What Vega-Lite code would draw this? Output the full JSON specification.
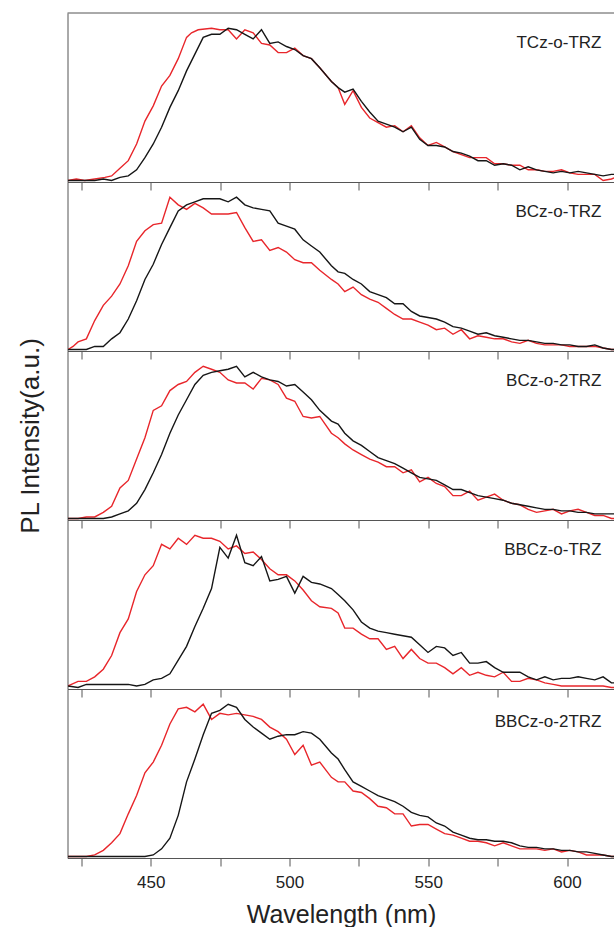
{
  "$schema": "https://vega.github.io/schema/vega-lite/v6.json",
  "background": "white",
  "padding": {"left": 16.5, "top": 12, "right": 0, "bottom": 0},
  "spacing": 0,
  "bounds": "flush",
  "config": {
    "view": {"stroke": null},
    "axis": {"grid": false, "domainColor": "#555", "tickColor": "#555", "domainWidth": 1, "tickWidth": 1, "labelFont": "Liberation Sans", "titleFont": "Liberation Sans", "labelColor": "#222", "titleColor": "#222", "titleFontWeight": "normal"},
    "text": {"font": "Liberation Sans", "fontSize": 17, "color": "#222"}
  },
  "datasets": {
    "tcz_o_trz_red": [{"x":420.2,"y":0},{"x":423.2,"y":0.01},{"x":426.2,"y":0},{"x":429.8,"y":0.01},{"x":433.5,"y":0.02},{"x":435.9,"y":0.03},{"x":438.9,"y":0.08},{"x":441.9,"y":0.13},{"x":444.9,"y":0.24},{"x":447.9,"y":0.39},{"x":450.9,"y":0.49},{"x":453.9,"y":0.62},{"x":456.9,"y":0.69},{"x":459.9,"y":0.8},{"x":462.9,"y":0.94},{"x":464.7,"y":0.97},{"x":467.1,"y":0.99},{"x":471.9,"y":1},{"x":474.9,"y":0.99},{"x":477.9,"y":0.99},{"x":480.9,"y":0.93},{"x":483.9,"y":0.99},{"x":486.9,"y":0.97},{"x":489.9,"y":0.9},{"x":492.9,"y":0.89},{"x":495.9,"y":0.84},{"x":498.9,"y":0.84},{"x":501.9,"y":0.87},{"x":504.9,"y":0.82},{"x":507.9,"y":0.8},{"x":510.9,"y":0.74},{"x":515.1,"y":0.65},{"x":517.5,"y":0.61},{"x":519.9,"y":0.5},{"x":522.9,"y":0.59},{"x":525.9,"y":0.48},{"x":528.9,"y":0.41},{"x":531.9,"y":0.38},{"x":534.9,"y":0.35},{"x":537.9,"y":0.36},{"x":540.9,"y":0.32},{"x":543.9,"y":0.36},{"x":546.9,"y":0.28},{"x":549.9,"y":0.23},{"x":552.9,"y":0.25},{"x":555.9,"y":0.22},{"x":558.9,"y":0.19},{"x":561.9,"y":0.17},{"x":564.9,"y":0.15},{"x":567.9,"y":0.15},{"x":570.9,"y":0.15},{"x":573.9,"y":0.11},{"x":577,"y":0.11},{"x":580,"y":0.1},{"x":583,"y":0.1},{"x":586,"y":0.07},{"x":589,"y":0.07},{"x":592,"y":0.06},{"x":595,"y":0.06},{"x":598,"y":0.07},{"x":601,"y":0.05},{"x":604,"y":0.04},{"x":607,"y":0.04},{"x":610,"y":0.04},{"x":613,"y":0},{"x":616,"y":0.01},{"x":617.4,"y":0.02}],
    "tcz_o_trz_black": [{"x":420.2,"y":0},{"x":425,"y":0},{"x":429.8,"y":0},{"x":432.9,"y":0.01},{"x":435.9,"y":0},{"x":438.9,"y":0.02},{"x":441.9,"y":0.03},{"x":444.9,"y":0.07},{"x":447.9,"y":0.15},{"x":450.9,"y":0.24},{"x":453.9,"y":0.35},{"x":456.9,"y":0.48},{"x":459.9,"y":0.59},{"x":462.9,"y":0.72},{"x":465.9,"y":0.83},{"x":468.9,"y":0.94},{"x":471.9,"y":0.96},{"x":474.9,"y":0.96},{"x":477.9,"y":1},{"x":480.9,"y":0.99},{"x":483.9,"y":0.96},{"x":486.9,"y":0.93},{"x":489.9,"y":0.99},{"x":492.9,"y":0.9},{"x":495.9,"y":0.91},{"x":498.9,"y":0.88},{"x":501.9,"y":0.86},{"x":504.9,"y":0.82},{"x":507.9,"y":0.8},{"x":510.9,"y":0.74},{"x":515.1,"y":0.65},{"x":517.5,"y":0.61},{"x":519.9,"y":0.58},{"x":522.9,"y":0.6},{"x":525.9,"y":0.52},{"x":528.9,"y":0.45},{"x":531.9,"y":0.39},{"x":534.9,"y":0.37},{"x":537.9,"y":0.35},{"x":540.9,"y":0.32},{"x":543.9,"y":0.35},{"x":546.9,"y":0.27},{"x":549.9,"y":0.23},{"x":552.9,"y":0.23},{"x":555.9,"y":0.22},{"x":558.9,"y":0.19},{"x":561.9,"y":0.18},{"x":564.9,"y":0.16},{"x":567.9,"y":0.13},{"x":570.9,"y":0.13},{"x":573.9,"y":0.1},{"x":577,"y":0.11},{"x":580,"y":0.1},{"x":583,"y":0.07},{"x":586,"y":0.09},{"x":589,"y":0.07},{"x":592,"y":0.06},{"x":595,"y":0.05},{"x":598,"y":0.06},{"x":601,"y":0.05},{"x":604,"y":0.06},{"x":607,"y":0.05},{"x":610,"y":0.04},{"x":613,"y":0.03},{"x":616,"y":0.04},{"x":617.4,"y":0.04}],
    "bcz_o_trz_red": [{"x":420.2,"y":0},{"x":422,"y":0.02},{"x":423.8,"y":0.05},{"x":426.8,"y":0.07},{"x":429.8,"y":0.19},{"x":432.9,"y":0.29},{"x":435.9,"y":0.35},{"x":438.9,"y":0.43},{"x":441.9,"y":0.55},{"x":444.9,"y":0.71},{"x":447.9,"y":0.78},{"x":450.9,"y":0.82},{"x":453.9,"y":0.83},{"x":456.9,"y":1},{"x":459.9,"y":0.95},{"x":462.9,"y":0.92},{"x":465.9,"y":0.96},{"x":468.9,"y":0.93},{"x":471.9,"y":0.89},{"x":474.9,"y":0.89},{"x":477.9,"y":0.89},{"x":480.9,"y":0.9},{"x":483.9,"y":0.8},{"x":486.9,"y":0.71},{"x":489.9,"y":0.72},{"x":492.9,"y":0.65},{"x":495.9,"y":0.67},{"x":498.9,"y":0.64},{"x":501.9,"y":0.59},{"x":504.9,"y":0.57},{"x":507.9,"y":0.57},{"x":510.9,"y":0.52},{"x":515.1,"y":0.46},{"x":517.5,"y":0.43},{"x":519.9,"y":0.38},{"x":522.9,"y":0.41},{"x":525.9,"y":0.36},{"x":528.9,"y":0.33},{"x":531.9,"y":0.31},{"x":534.9,"y":0.27},{"x":537.9,"y":0.23},{"x":540.9,"y":0.2},{"x":543.9,"y":0.2},{"x":546.9,"y":0.18},{"x":549.9,"y":0.16},{"x":552.9,"y":0.13},{"x":555.9,"y":0.14},{"x":558.9,"y":0.1},{"x":561.9,"y":0.13},{"x":564.9,"y":0.07},{"x":567.9,"y":0.09},{"x":570.9,"y":0.08},{"x":573.9,"y":0.07},{"x":577,"y":0.07},{"x":580,"y":0.05},{"x":583,"y":0.04},{"x":586,"y":0.06},{"x":589,"y":0.04},{"x":592,"y":0.03},{"x":595,"y":0.03},{"x":598,"y":0.03},{"x":601,"y":0.02},{"x":604,"y":0.02},{"x":607,"y":0.02},{"x":610,"y":0.02},{"x":613,"y":0.01},{"x":616,"y":0},{"x":617.4,"y":0}],
    "bcz_o_trz_black": [{"x":420.2,"y":0},{"x":423.8,"y":0},{"x":426.8,"y":0},{"x":429.8,"y":0.02},{"x":432.9,"y":0.02},{"x":435.9,"y":0.07},{"x":438.9,"y":0.11},{"x":441.9,"y":0.2},{"x":444.9,"y":0.32},{"x":447.9,"y":0.46},{"x":450.9,"y":0.56},{"x":453.9,"y":0.69},{"x":456.9,"y":0.8},{"x":459.9,"y":0.91},{"x":462.9,"y":0.95},{"x":465.9,"y":0.97},{"x":468.9,"y":0.99},{"x":471.9,"y":0.99},{"x":474.9,"y":0.99},{"x":477.9,"y":0.97},{"x":480.9,"y":1},{"x":483.9,"y":0.95},{"x":486.9,"y":0.93},{"x":489.9,"y":0.92},{"x":492.9,"y":0.91},{"x":495.9,"y":0.83},{"x":498.9,"y":0.81},{"x":501.9,"y":0.79},{"x":504.9,"y":0.72},{"x":507.9,"y":0.68},{"x":510.9,"y":0.64},{"x":515.1,"y":0.55},{"x":517.5,"y":0.51},{"x":519.9,"y":0.5},{"x":522.9,"y":0.46},{"x":525.9,"y":0.43},{"x":528.9,"y":0.38},{"x":531.9,"y":0.36},{"x":534.9,"y":0.34},{"x":537.9,"y":0.3},{"x":540.9,"y":0.3},{"x":543.9,"y":0.25},{"x":546.9,"y":0.22},{"x":549.9,"y":0.21},{"x":552.9,"y":0.2},{"x":555.9,"y":0.18},{"x":558.9,"y":0.15},{"x":561.9,"y":0.14},{"x":564.9,"y":0.12},{"x":567.9,"y":0.1},{"x":570.9,"y":0.11},{"x":573.9,"y":0.09},{"x":577,"y":0.08},{"x":580,"y":0.07},{"x":583,"y":0.06},{"x":586,"y":0.06},{"x":589,"y":0.05},{"x":592,"y":0.04},{"x":595,"y":0.04},{"x":598,"y":0.03},{"x":601,"y":0.03},{"x":604,"y":0.02},{"x":607,"y":0.02},{"x":610,"y":0.03},{"x":613,"y":0.01},{"x":616,"y":0},{"x":617.4,"y":0}],
    "bcz_o_2trz_red": [{"x":420.2,"y":0},{"x":423.8,"y":0},{"x":426.8,"y":0.01},{"x":429.8,"y":0.01},{"x":432.9,"y":0.04},{"x":435.9,"y":0.08},{"x":438.9,"y":0.2},{"x":441.9,"y":0.25},{"x":444.9,"y":0.39},{"x":447.9,"y":0.53},{"x":450.9,"y":0.71},{"x":453.9,"y":0.74},{"x":456.9,"y":0.84},{"x":459.9,"y":0.88},{"x":462.9,"y":0.9},{"x":465.9,"y":0.96},{"x":468.9,"y":1},{"x":471.9,"y":0.98},{"x":474.9,"y":0.96},{"x":477.9,"y":0.91},{"x":480.9,"y":0.89},{"x":483.9,"y":0.89},{"x":486.9,"y":0.85},{"x":489.9,"y":0.92},{"x":492.9,"y":0.91},{"x":495.9,"y":0.88},{"x":498.9,"y":0.79},{"x":501.9,"y":0.77},{"x":504.9,"y":0.67},{"x":507.9,"y":0.66},{"x":510.9,"y":0.67},{"x":515.1,"y":0.56},{"x":517.5,"y":0.53},{"x":519.9,"y":0.49},{"x":522.9,"y":0.45},{"x":525.9,"y":0.42},{"x":528.9,"y":0.39},{"x":531.9,"y":0.37},{"x":534.9,"y":0.34},{"x":537.9,"y":0.34},{"x":540.9,"y":0.3},{"x":543.9,"y":0.32},{"x":546.9,"y":0.24},{"x":549.9,"y":0.27},{"x":552.9,"y":0.23},{"x":555.9,"y":0.21},{"x":558.9,"y":0.15},{"x":561.9,"y":0.15},{"x":564.9,"y":0.18},{"x":567.9,"y":0.12},{"x":570.9,"y":0.14},{"x":573.9,"y":0.16},{"x":577,"y":0.12},{"x":580,"y":0.1},{"x":583,"y":0.09},{"x":586,"y":0.06},{"x":589,"y":0.04},{"x":592,"y":0.05},{"x":595,"y":0.06},{"x":598,"y":0.03},{"x":601,"y":0.05},{"x":604,"y":0.06},{"x":607,"y":0.04},{"x":610,"y":0.02},{"x":613,"y":0.02},{"x":616,"y":0},{"x":617.4,"y":0}],
    "bcz_o_2trz_black": [{"x":420.2,"y":0},{"x":423.8,"y":0},{"x":429.8,"y":0},{"x":432.9,"y":0},{"x":435.9,"y":0.01},{"x":438.9,"y":0.03},{"x":441.9,"y":0.05},{"x":444.9,"y":0.1},{"x":447.9,"y":0.19},{"x":450.9,"y":0.3},{"x":453.9,"y":0.42},{"x":456.9,"y":0.56},{"x":459.9,"y":0.68},{"x":462.9,"y":0.78},{"x":465.9,"y":0.88},{"x":468.9,"y":0.94},{"x":471.9,"y":0.96},{"x":474.9,"y":0.97},{"x":477.9,"y":0.98},{"x":480.9,"y":1},{"x":483.9,"y":0.93},{"x":486.9,"y":0.96},{"x":489.9,"y":0.93},{"x":492.9,"y":0.91},{"x":495.9,"y":0.9},{"x":498.9,"y":0.87},{"x":501.9,"y":0.88},{"x":504.9,"y":0.83},{"x":507.9,"y":0.78},{"x":510.9,"y":0.71},{"x":515.1,"y":0.64},{"x":517.5,"y":0.62},{"x":519.9,"y":0.56},{"x":522.9,"y":0.51},{"x":525.9,"y":0.48},{"x":528.9,"y":0.44},{"x":531.9,"y":0.4},{"x":534.9,"y":0.38},{"x":537.9,"y":0.36},{"x":540.9,"y":0.33},{"x":543.9,"y":0.3},{"x":546.9,"y":0.27},{"x":549.9,"y":0.26},{"x":552.9,"y":0.25},{"x":555.9,"y":0.22},{"x":558.9,"y":0.19},{"x":561.9,"y":0.19},{"x":564.9,"y":0.17},{"x":567.9,"y":0.15},{"x":570.9,"y":0.14},{"x":573.9,"y":0.13},{"x":577,"y":0.12},{"x":580,"y":0.1},{"x":583,"y":0.09},{"x":586,"y":0.08},{"x":589,"y":0.07},{"x":592,"y":0.06},{"x":595,"y":0.06},{"x":598,"y":0.05},{"x":601,"y":0.05},{"x":604,"y":0.04},{"x":607,"y":0.04},{"x":610,"y":0.03},{"x":613,"y":0.03},{"x":616,"y":0.03},{"x":617.4,"y":0.03}],
    "bbcz_o_trz_red": [{"x":420.2,"y":0.01},{"x":423.8,"y":0.04},{"x":426.8,"y":0.04},{"x":429.8,"y":0.07},{"x":432.9,"y":0.12},{"x":435.9,"y":0.21},{"x":438.9,"y":0.36},{"x":441.9,"y":0.45},{"x":444.9,"y":0.63},{"x":447.9,"y":0.74},{"x":450.9,"y":0.8},{"x":453.9,"y":0.94},{"x":456.9,"y":0.91},{"x":459.9,"y":0.98},{"x":462.9,"y":0.94},{"x":465.9,"y":1},{"x":468.9,"y":0.98},{"x":471.9,"y":0.98},{"x":474.9,"y":0.96},{"x":477.9,"y":0.91},{"x":480.9,"y":0.93},{"x":483.9,"y":0.88},{"x":486.9,"y":0.89},{"x":489.9,"y":0.84},{"x":492.9,"y":0.78},{"x":495.9,"y":0.74},{"x":498.9,"y":0.74},{"x":501.9,"y":0.7},{"x":504.9,"y":0.64},{"x":507.9,"y":0.57},{"x":510.9,"y":0.53},{"x":515.1,"y":0.52},{"x":517.5,"y":0.49},{"x":519.9,"y":0.39},{"x":522.9,"y":0.39},{"x":525.9,"y":0.35},{"x":528.9,"y":0.32},{"x":531.9,"y":0.32},{"x":534.9,"y":0.25},{"x":537.9,"y":0.27},{"x":540.9,"y":0.19},{"x":543.9,"y":0.25},{"x":546.9,"y":0.19},{"x":549.9,"y":0.16},{"x":552.9,"y":0.16},{"x":555.9,"y":0.13},{"x":558.9,"y":0.09},{"x":561.9,"y":0.13},{"x":564.9,"y":0.08},{"x":567.9,"y":0.1},{"x":570.9,"y":0.08},{"x":573.9,"y":0.07},{"x":577,"y":0.1},{"x":580,"y":0.04},{"x":583,"y":0.04},{"x":586,"y":0.06},{"x":589,"y":0.05},{"x":592,"y":0.03},{"x":595,"y":0.02},{"x":598,"y":0.01},{"x":601,"y":0.01},{"x":604,"y":0.01},{"x":607,"y":0.01},{"x":610,"y":0.01},{"x":613,"y":0.01},{"x":616,"y":0},{"x":617.4,"y":0}],
    "bbcz_o_trz_black": [{"x":420.2,"y":0.01},{"x":423.8,"y":0},{"x":426.8,"y":0.02},{"x":429.8,"y":0.02},{"x":432.9,"y":0.02},{"x":435.9,"y":0.02},{"x":438.9,"y":0.02},{"x":441.9,"y":0.02},{"x":444.9,"y":0.01},{"x":447.9,"y":0.02},{"x":450.9,"y":0.05},{"x":453.9,"y":0.06},{"x":456.9,"y":0.09},{"x":459.9,"y":0.18},{"x":462.9,"y":0.27},{"x":465.9,"y":0.4},{"x":468.9,"y":0.52},{"x":471.9,"y":0.65},{"x":474.9,"y":0.92},{"x":477.9,"y":0.85},{"x":480.9,"y":1},{"x":483.9,"y":0.82},{"x":486.9,"y":0.8},{"x":489.9,"y":0.86},{"x":492.9,"y":0.7},{"x":495.9,"y":0.71},{"x":498.9,"y":0.73},{"x":501.9,"y":0.62},{"x":504.9,"y":0.73},{"x":507.9,"y":0.69},{"x":510.9,"y":0.68},{"x":515.1,"y":0.65},{"x":517.5,"y":0.61},{"x":519.9,"y":0.57},{"x":522.9,"y":0.51},{"x":525.9,"y":0.43},{"x":528.9,"y":0.39},{"x":531.9,"y":0.37},{"x":534.9,"y":0.36},{"x":537.9,"y":0.35},{"x":540.9,"y":0.34},{"x":543.9,"y":0.33},{"x":546.9,"y":0.28},{"x":549.9,"y":0.23},{"x":552.9,"y":0.27},{"x":555.9,"y":0.26},{"x":558.9,"y":0.21},{"x":561.9,"y":0.23},{"x":564.9,"y":0.16},{"x":567.9,"y":0.16},{"x":570.9,"y":0.17},{"x":573.9,"y":0.13},{"x":577,"y":0.1},{"x":580,"y":0.1},{"x":583,"y":0.1},{"x":586,"y":0.07},{"x":589,"y":0.05},{"x":592,"y":0.07},{"x":595,"y":0.05},{"x":598,"y":0.06},{"x":601,"y":0.06},{"x":604,"y":0.07},{"x":607,"y":0.06},{"x":610,"y":0.05},{"x":613,"y":0.07},{"x":616,"y":0.03},{"x":617.4,"y":0.03}],
    "bbcz_o_2trz_red": [{"x":420.2,"y":0},{"x":423.8,"y":0},{"x":426.8,"y":0},{"x":429.8,"y":0.01},{"x":432.9,"y":0.04},{"x":435.9,"y":0.09},{"x":438.9,"y":0.15},{"x":441.9,"y":0.28},{"x":444.9,"y":0.4},{"x":447.9,"y":0.55},{"x":450.9,"y":0.62},{"x":453.9,"y":0.73},{"x":456.9,"y":0.87},{"x":459.9,"y":0.97},{"x":462.9,"y":0.98},{"x":465.9,"y":0.95},{"x":468.9,"y":1},{"x":471.9,"y":0.9},{"x":474.9,"y":0.94},{"x":477.9,"y":0.93},{"x":480.9,"y":0.94},{"x":483.9,"y":0.93},{"x":486.9,"y":0.92},{"x":489.9,"y":0.9},{"x":492.9,"y":0.85},{"x":495.9,"y":0.82},{"x":498.9,"y":0.77},{"x":501.9,"y":0.67},{"x":504.9,"y":0.73},{"x":507.9,"y":0.6},{"x":510.9,"y":0.62},{"x":515.1,"y":0.52},{"x":517.5,"y":0.49},{"x":519.9,"y":0.49},{"x":522.9,"y":0.43},{"x":525.9,"y":0.42},{"x":528.9,"y":0.38},{"x":531.9,"y":0.33},{"x":534.9,"y":0.32},{"x":537.9,"y":0.28},{"x":540.9,"y":0.28},{"x":543.9,"y":0.2},{"x":546.9,"y":0.21},{"x":549.9,"y":0.21},{"x":552.9,"y":0.18},{"x":555.9,"y":0.15},{"x":558.9,"y":0.14},{"x":561.9,"y":0.12},{"x":564.9,"y":0.1},{"x":567.9,"y":0.1},{"x":570.9,"y":0.09},{"x":573.9,"y":0.07},{"x":577,"y":0.09},{"x":580,"y":0.07},{"x":583,"y":0.05},{"x":586,"y":0.05},{"x":589,"y":0.05},{"x":592,"y":0.04},{"x":595,"y":0.05},{"x":598,"y":0.03},{"x":601,"y":0.04},{"x":604,"y":0.03},{"x":607,"y":0.01},{"x":610,"y":0.01},{"x":613,"y":0.01},{"x":616,"y":0},{"x":617.4,"y":0}],
    "bbcz_o_2trz_black": [{"x":420.2,"y":0},{"x":429.8,"y":0},{"x":435.9,"y":0},{"x":441.9,"y":0},{"x":447.9,"y":0},{"x":450.9,"y":0.01},{"x":453.9,"y":0.05},{"x":456.9,"y":0.12},{"x":459.9,"y":0.27},{"x":462.9,"y":0.49},{"x":465.9,"y":0.64},{"x":468.9,"y":0.8},{"x":471.9,"y":0.94},{"x":474.9,"y":0.96},{"x":477.9,"y":1},{"x":480.9,"y":0.98},{"x":483.9,"y":0.9},{"x":486.9,"y":0.85},{"x":489.9,"y":0.81},{"x":492.9,"y":0.77},{"x":495.9,"y":0.79},{"x":498.9,"y":0.8},{"x":501.9,"y":0.8},{"x":504.9,"y":0.82},{"x":507.9,"y":0.81},{"x":510.9,"y":0.77},{"x":515.1,"y":0.68},{"x":517.5,"y":0.64},{"x":519.9,"y":0.57},{"x":522.9,"y":0.49},{"x":525.9,"y":0.46},{"x":528.9,"y":0.43},{"x":531.9,"y":0.4},{"x":534.9,"y":0.38},{"x":537.9,"y":0.36},{"x":540.9,"y":0.33},{"x":543.9,"y":0.29},{"x":546.9,"y":0.27},{"x":549.9,"y":0.26},{"x":552.9,"y":0.22},{"x":555.9,"y":0.2},{"x":558.9,"y":0.16},{"x":561.9,"y":0.14},{"x":564.9,"y":0.12},{"x":567.9,"y":0.11},{"x":570.9,"y":0.11},{"x":573.9,"y":0.1},{"x":577,"y":0.1},{"x":580,"y":0.09},{"x":583,"y":0.07},{"x":586,"y":0.06},{"x":589,"y":0.06},{"x":592,"y":0.05},{"x":595,"y":0.05},{"x":598,"y":0.04},{"x":601,"y":0.04},{"x":604,"y":0.03},{"x":607,"y":0.03},{"x":610,"y":0.02},{"x":613,"y":0.01},{"x":616,"y":0},{"x":617.4,"y":0}]
  },
  "vconcat": [
    {
      "width": 547, "height": 169,
      "encoding": {
        "x": {"field": "x", "type": "quantitative", "scale": {"domain": [420, 617.1], "nice": false, "zero": false}, "axis": {"values": [425,450,475,500,525,550,575,600], "labels": false, "tickSize": 8, "title": null}},
        "y": {"field": "y", "type": "quantitative", "scale": {"domain": [-0.01, 1.1], "nice": false, "zero": false}, "axis": {"ticks": false, "labels": false, "title": null}}
      },
      "layer": [
        {"data": {"name": "tcz_o_trz_red"}, "mark": {"type": "line", "color": "#e8262b", "strokeWidth": 1.4, "clip": true}},
        {"data": {"name": "tcz_o_trz_black"}, "mark": {"type": "line", "color": "#161616", "strokeWidth": 1.4, "clip": true}},
        {"data": {"values": [{"edge": 1.1}]}, "mark": {"type": "rule", "color": "#555", "strokeWidth": 1}, "encoding": {"x": null, "y": {"field": "edge", "type": "quantitative"}}},
        {"data": {"values": [{"label": "TCz-o-TRZ", "x": 612.4, "y": 0.9}]}, "mark": {"type": "text", "align": "right", "baseline": "middle"}, "encoding": {"text": {"field": "label"}}}
      ]
    },
    {
      "width": 547, "height": 169,
      "encoding": {
        "x": {"field": "x", "type": "quantitative", "scale": {"domain": [420, 617.1], "nice": false, "zero": false}, "axis": {"values": [425,450,475,500,525,550,575,600], "labels": false, "tickSize": 8, "title": null}},
        "y": {"field": "y", "type": "quantitative", "scale": {"domain": [-0.01, 1.1], "nice": false, "zero": false}, "axis": {"ticks": false, "labels": false, "title": null}}
      },
      "layer": [
        {"data": {"name": "bcz_o_trz_red"}, "mark": {"type": "line", "color": "#e8262b", "strokeWidth": 1.4, "clip": true}},
        {"data": {"name": "bcz_o_trz_black"}, "mark": {"type": "line", "color": "#161616", "strokeWidth": 1.4, "clip": true}},
        {"data": {"values": [{"label": "BCz-o-TRZ", "x": 612.4, "y": 0.9}]}, "mark": {"type": "text", "align": "right", "baseline": "middle"}, "encoding": {"text": {"field": "label"}}}
      ]
    },
    {
      "width": 547, "height": 169,
      "encoding": {
        "x": {"field": "x", "type": "quantitative", "scale": {"domain": [420, 617.1], "nice": false, "zero": false}, "axis": {"values": [425,450,475,500,525,550,575,600], "labels": false, "tickSize": 8, "title": null}},
        "y": {"field": "y", "type": "quantitative", "scale": {"domain": [-0.01, 1.1], "nice": false, "zero": false}, "axis": {"ticks": false, "labels": false, "title": "PL Intensity(a.u.)", "titleFontSize": 26, "titlePadding": 24}}
      },
      "layer": [
        {"data": {"name": "bcz_o_2trz_red"}, "mark": {"type": "line", "color": "#e8262b", "strokeWidth": 1.4, "clip": true}},
        {"data": {"name": "bcz_o_2trz_black"}, "mark": {"type": "line", "color": "#161616", "strokeWidth": 1.4, "clip": true}},
        {"data": {"values": [{"label": "BCz-o-2TRZ", "x": 612.4, "y": 0.9}]}, "mark": {"type": "text", "align": "right", "baseline": "middle"}, "encoding": {"text": {"field": "label"}}}
      ]
    },
    {
      "width": 547, "height": 169,
      "encoding": {
        "x": {"field": "x", "type": "quantitative", "scale": {"domain": [420, 617.1], "nice": false, "zero": false}, "axis": {"values": [425,450,475,500,525,550,575,600], "labels": false, "tickSize": 8, "title": null}},
        "y": {"field": "y", "type": "quantitative", "scale": {"domain": [-0.01, 1.1], "nice": false, "zero": false}, "axis": {"ticks": false, "labels": false, "title": null}}
      },
      "layer": [
        {"data": {"name": "bbcz_o_trz_red"}, "mark": {"type": "line", "color": "#e8262b", "strokeWidth": 1.4, "clip": true}},
        {"data": {"name": "bbcz_o_trz_black"}, "mark": {"type": "line", "color": "#161616", "strokeWidth": 1.4, "clip": true}},
        {"data": {"values": [{"label": "BBCz-o-TRZ", "x": 612.4, "y": 0.9}]}, "mark": {"type": "text", "align": "right", "baseline": "middle"}, "encoding": {"text": {"field": "label"}}}
      ]
    },
    {
      "width": 547, "height": 169,
      "encoding": {
        "x": {"field": "x", "type": "quantitative", "scale": {"domain": [420, 617.1], "nice": false, "zero": false}, "axis": {"values": [425,450,475,500,525,550,575,600], "labelExpr": "datum.value % 50 == 0 ? datum.label : ''", "labelFontSize": 17, "labelPadding": 8, "tickSize": 8, "title": "Wavelength (nm)", "titleFontSize": 25, "titlePadding": 12}},
        "y": {"field": "y", "type": "quantitative", "scale": {"domain": [-0.01, 1.1], "nice": false, "zero": false}, "axis": {"ticks": false, "labels": false, "title": null}}
      },
      "layer": [
        {"data": {"name": "bbcz_o_2trz_red"}, "mark": {"type": "line", "color": "#e8262b", "strokeWidth": 1.4, "clip": true}},
        {"data": {"name": "bbcz_o_2trz_black"}, "mark": {"type": "line", "color": "#161616", "strokeWidth": 1.4, "clip": true}},
        {"data": {"values": [{"label": "BBCz-o-2TRZ", "x": 612.4, "y": 0.88}]}, "mark": {"type": "text", "align": "right", "baseline": "middle"}, "encoding": {"text": {"field": "label"}}}
      ]
    }
  ]
}
